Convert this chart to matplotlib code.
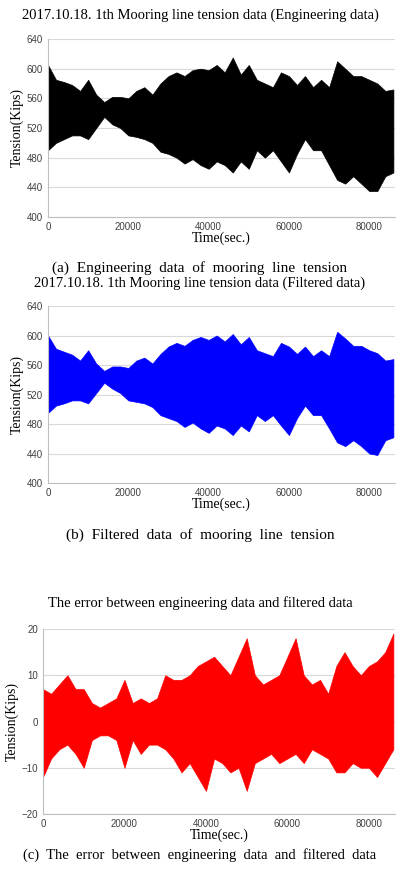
import matplotlib
matplotlib.use("Agg")
import matplotlib.pyplot as plt
import numpy as np

t = list(range(0, 86001, 2000))
eng_upper = [605,585,582,578,570,585,565,555,562,562,560,570,575,565,580,590,595,590,598,600,598,605,595,615,592,605,585,580,575,595,590,578,590,575,585,575,610,600,590,590,585,580,570,572]
eng_lower = [490,500,505,510,510,505,520,535,525,520,510,508,505,500,488,485,480,472,478,470,465,475,470,460,475,465,490,480,490,475,460,485,505,490,490,470,450,445,455,445,435,435,455,460]
fil_upper = [600,582,578,574,566,580,562,552,558,558,556,566,570,562,575,585,590,586,594,598,594,600,592,602,588,598,580,576,572,590,585,575,585,572,580,572,605,596,586,586,580,576,566,568]
fil_lower = [495,505,508,512,512,508,522,536,528,522,512,510,508,503,492,488,484,476,482,474,468,478,474,465,478,470,492,484,492,478,465,488,505,492,492,474,455,450,458,450,440,438,458,462]
err_upper = [7,6,8,10,7,7,4,3,4,5,9,4,5,4,5,10,9,9,10,12,13,14,12,10,14,18,10,8,9,10,14,18,10,8,9,6,12,15,12,10,12,13,15,19]
err_lower = [-12,-8,-6,-5,-7,-10,-4,-3,-3,-4,-10,-4,-7,-5,-5,-6,-8,-11,-9,-12,-15,-8,-9,-11,-10,-15,-9,-8,-7,-9,-8,-7,-9,-6,-7,-8,-11,-11,-9,-10,-10,-12,-9,-6]

plt.rcParams['font.family'] = ['Liberation Serif', 'DejaVu Sans']
fig = plt.figure(figsize=(4, 8.71), dpi=100)
W, H = 400, 871

def mk(l, top, r, bot):
    return fig.add_axes([l / W, 1 - bot / H, (r - l) / W, (bot - top) / H])

def style(ax, ylim, yt, color):
    ax.set_xlim(0, 86400)
    ax.set_ylim(*ylim)
    ax.set_yticks(yt)
    ax.set_xticks([0, 20000, 40000, 60000, 80000])
    ax.grid(axis='y', color='#d9d9d9', lw=0.8)
    ax.set_axisbelow(True)
    for s in ['top', 'right']:
        ax.spines[s].set_visible(False)
    for s in ['left', 'bottom']:
        ax.spines[s].set_color('#bfbfbf')
    ax.tick_params(labelsize=7, colors='#404040', length=0, labelfontfamily='Liberation Sans')
    ax.set_ylabel('Tension(Kips)', fontsize=10, labelpad=2)
    ax.set_xlabel('Time(sec.)', fontsize=10, labelpad=0)

ax1 = mk(48, 39, 395, 217)
ax1.fill_between(t, eng_lower, eng_upper, color='black', lw=0.5)
style(ax1, (400, 640), range(400, 641, 40), 'black')
fig.text(0.5, 1 - 15 / H, '2017.10.18. 1th Mooring line tension data (Engineering data)', ha='center', va='center', fontsize=10.5)
fig.text(0.5, 1 - 268 / H, '(a)  Engineering  data  of  mooring  line  tension', ha='center', va='center', fontsize=11)

ax2 = mk(48, 306, 395, 483)
ax2.fill_between(t, fil_lower, fil_upper, color='#0000ff', lw=0.5)
style(ax2, (400, 640), range(400, 641, 40), 'blue')
fig.text(0.5, 1 - 283 / H, '2017.10.18. 1th Mooring line tension data (Filtered data)', ha='center', va='center', fontsize=10.5)
fig.text(0.5, 1 - 535 / H, '(b)  Filtered  data  of  mooring  line  tension', ha='center', va='center', fontsize=11)

ax3 = mk(43, 629, 395, 814)
ax3.fill_between(t, err_lower, err_upper, color='#ff0000', lw=0.5)
style(ax3, (-20, 20), range(-20, 21, 10), 'red')
fig.text(0.5, 1 - 603 / H, 'The error between engineering data and filtered data', ha='center', va='center', fontsize=10.5)
fig.text(0.5, 1 - 855 / H, '(c)  The  error  between  engineering  data  and  filtered  data', ha='center', va='center', fontsize=10.5)

fig.savefig('out.png', dpi=100)
